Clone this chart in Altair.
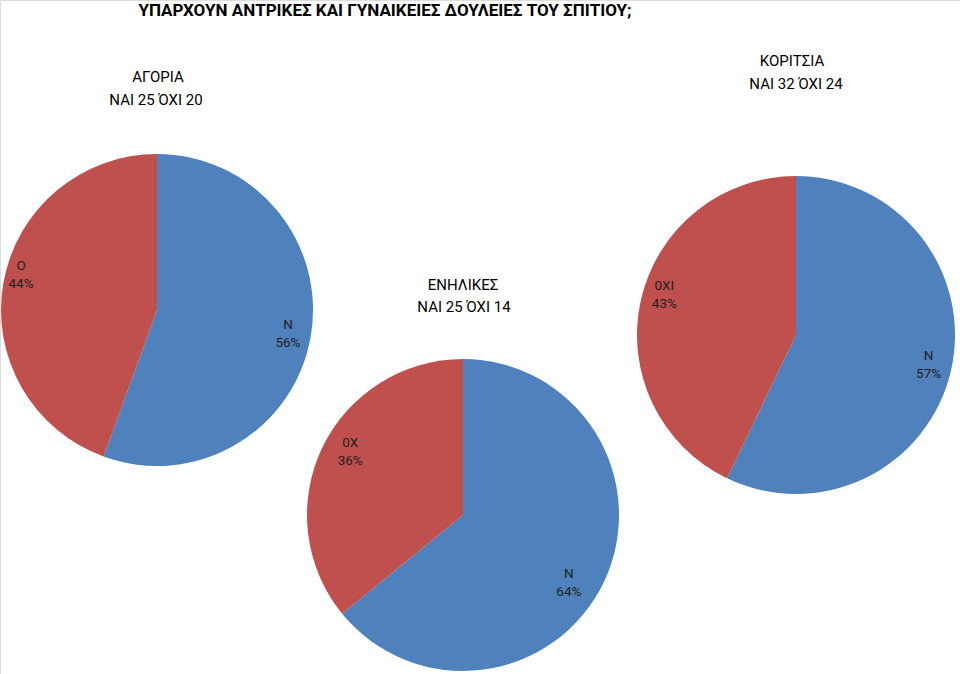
import altair as alt
import pandas as pd

# ---- data ----
answers = ["ΝΑΙ", "ΌΧΙ"]
boys = [25, 20]
girls = [32, 24]
adults = [25, 14]
boys_short = ["N", "O"]
girls_short = ["N", "0XI"]
adults_short = ["N", "0X"]
boys_pct = ["56%", "44%"]
girls_pct = ["57%", "43%"]
adults_pct = ["64%", "36%"]

title_text = "ΥΠΑΡΧΟΥΝ ΑΝΤΡΙΚΕΣ ΚΑΙ ΓΥΝΑΙΚΕΙΕΣ ΔΟΥΛΕΙΕΣ ΤΟΥ ΣΠΙΤΙΟΥ;"
group_titles = ["ΑΓΟΡΙΑ", "ΚΟΡΙΤΣΙΑ", "ΕΝΗΛΙΚΕΣ"]
group_subs = ["ΝΑΙ 25 ΌΧΙ 20", "ΝΑΙ 32 ΌΧΙ 24", "ΝΑΙ 25 ΌΧΙ 14"]

FONT = "Roboto, sans-serif"
color_scale = alt.Scale(domain=answers, range=["#4F81BD", "#C0504D"])
theta_scale = alt.Scale(domain=[0, 1])


def pie(values, shorts, pcts, cx, cy, r, lr, offsets):
    df = pd.DataFrame({"answer": answers, "value": values, "idx": [0, 1],
                       "short": shorts, "pct": pcts})
    base = alt.Chart(df).transform_joinaggregate(
        total="sum(value)"
    ).transform_window(
        cum="sum(value)", sort=[alt.SortField("idx")]
    ).transform_calculate(
        t0="(datum.cum - datum.value) / datum.total",
        t1="datum.cum / datum.total",
        tm="(datum.cum - datum.value / 2) / datum.total",
    ).encode(x=alt.value(cx), y=alt.value(cy))
    arc = base.mark_arc(radius=r).encode(
        theta=alt.Theta("t0:Q", scale=theta_scale),
        theta2="t1:Q",
        color=alt.Color("answer:N", scale=color_scale, legend=None),
    )
    out = [arc]
    for i, (ox, oy) in enumerate(offsets):
        sub = base.transform_filter(alt.datum.idx == i).encode(
            theta=alt.Theta("tm:Q", scale=theta_scale))
        out.append(sub.mark_text(radius=lr, dx=ox, dy=oy - 9, font=FONT, fontSize=13.5,
                                 color="#1F1F1F").encode(text="short:N"))
        out.append(sub.mark_text(radius=lr, dx=ox, dy=oy + 9, font=FONT, fontSize=13.5,
                                 color="#1F1F1F").encode(text="pct:N"))
    return alt.layer(*out)


def label(txt, x, y, size, font, bold=False):
    df = pd.DataFrame({"t": [txt]})
    return alt.Chart(df).mark_text(
        font=font, fontSize=size, fontWeight="bold" if bold else "normal",
        color="#000000", align="center", baseline="middle"
    ).encode(text="t:N", x=alt.value(x), y=alt.value(y))


layers = [
    pie(boys, boys_short, boys_pct, 157, 310, 156, 134, [(-1, 1), (-4, -12)]),
    pie(adults, adults_short, adults_pct, 463, 515, 156, 126, [(-8, 14), (1, -9)]),
    pie(girls, girls_short, girls_pct, 796, 335, 159, 134, [(2, 0), (-1, -10)]),
    label(title_text, 385, 11, 17, FONT, bold=True),
    label(group_titles[0], 158, 77, 15, FONT),
    label(group_subs[0], 156, 100, 15, FONT),
    label(group_titles[1], 792, 61, 15, FONT),
    label(group_subs[1], 796, 84, 15, FONT),
    label(group_titles[2], 463, 285, 15, FONT),
    label(group_subs[2], 464, 307, 15, FONT),
]

chart = alt.layer(*layers).properties(
    width=960, height=674, padding=0, autosize=alt.AutoSizeParams(type="none")
).configure_view(stroke=None).configure(background="white")

chart.save("out.html", embed_options={"renderer": "svg", "actions": False})
